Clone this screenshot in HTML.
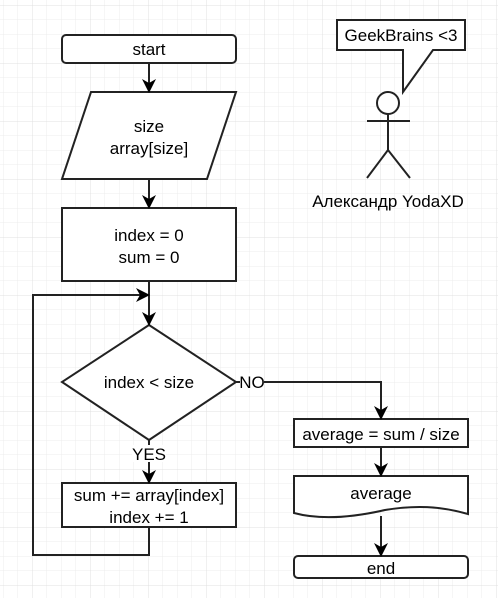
<!DOCTYPE html>
<html><head><meta charset="utf-8"><style>
html,body{margin:0;padding:0;background:#fff;}
svg{display:block;}
text{font-family:"Liberation Sans",Arial,sans-serif;font-size:17px;fill:#000;}
</style></head><body>
<svg width="498" height="598" viewBox="0 0 498 598" xmlns="http://www.w3.org/2000/svg">
<defs>
<pattern id="g" x="3" y="5" width="14.5" height="14.5" patternUnits="userSpaceOnUse">
<path d="M0 0H14.5M0 0V14.5" stroke="#ececec" stroke-width="1" fill="none"/>
</pattern>
<pattern id="G" x="32" y="63" width="58" height="58" patternUnits="userSpaceOnUse">
<path d="M0 0H58M0 0V58" stroke="#e0e0e0" stroke-width="1" fill="none"/>
</pattern>
<marker id="a" markerWidth="14" markerHeight="14" refX="13" refY="7" orient="auto" markerUnits="userSpaceOnUse">
<path d="M0 0L14 7L0 14L4 7Z" fill="#000"/>
</marker>
</defs>
<rect width="498" height="598" fill="url(#g)"/>
<rect width="498" height="598" fill="url(#G)"/>
<g stroke="#222" stroke-width="2" fill="#fff">
<rect x="62" y="35" width="174" height="28" rx="4"/>
<path d="M91 92H236L207 179H62Z"/>
<rect x="62" y="208" width="174" height="73"/>
<path d="M149 325L236 382L149 440L62 382Z"/>
<rect x="62" y="483" width="174" height="44"/>
<rect x="294" y="419" width="174" height="28"/>
<path d="M294 476H468V514C440 506 415 505 385 510C350 518 320 520 294 513Z"/>
<rect x="294" y="556" width="174" height="22" rx="4"/>
<path d="M337 20H465V50H433L403 92V50H337Z"/>
<circle cx="388" cy="103" r="11"/>
</g>
<g stroke="#222" stroke-width="2" fill="none">
<path d="M149 63V92" marker-end="url(#a)"/>
<path d="M149 179V208" marker-end="url(#a)"/>
<path d="M149 281V325" marker-end="url(#a)"/>
<path d="M149 527V555H33V295H149" marker-end="url(#a)"/>
<path d="M149 440V483" marker-end="url(#a)"/>
<path d="M236 382H381V419" marker-end="url(#a)"/>
<path d="M381 447V476" marker-end="url(#a)"/>
<path d="M381 516V556" marker-end="url(#a)"/>
<path d="M388 114V150M367 121H410M367 178L388 150L410 178"/>
</g>
<rect x="240" y="373" width="24" height="17" fill="#fff"/>
<rect x="132" y="445" width="34" height="17" fill="#fff"/>
<g text-anchor="middle">
<text x="149" y="55">start</text>
<text x="149" y="132">size</text>
<text x="149" y="154">array[size]</text>
<text x="149" y="241">index = 0</text>
<text x="149" y="263">sum = 0</text>
<text x="149" y="388">index &lt; size</text>
<text x="252" y="388">NO</text>
<text x="149" y="460">YES</text>
<text x="149" y="501">sum += array[index]</text>
<text x="149" y="523">index += 1</text>
<text x="381" y="440">average = sum / size</text>
<text x="381" y="499">average</text>
<text x="381" y="574">end</text>
<text x="401" y="41">GeekBrains &lt;3</text>
<text x="388" y="207">Александр YodaXD</text>
</g>
</svg>
</body></html>
